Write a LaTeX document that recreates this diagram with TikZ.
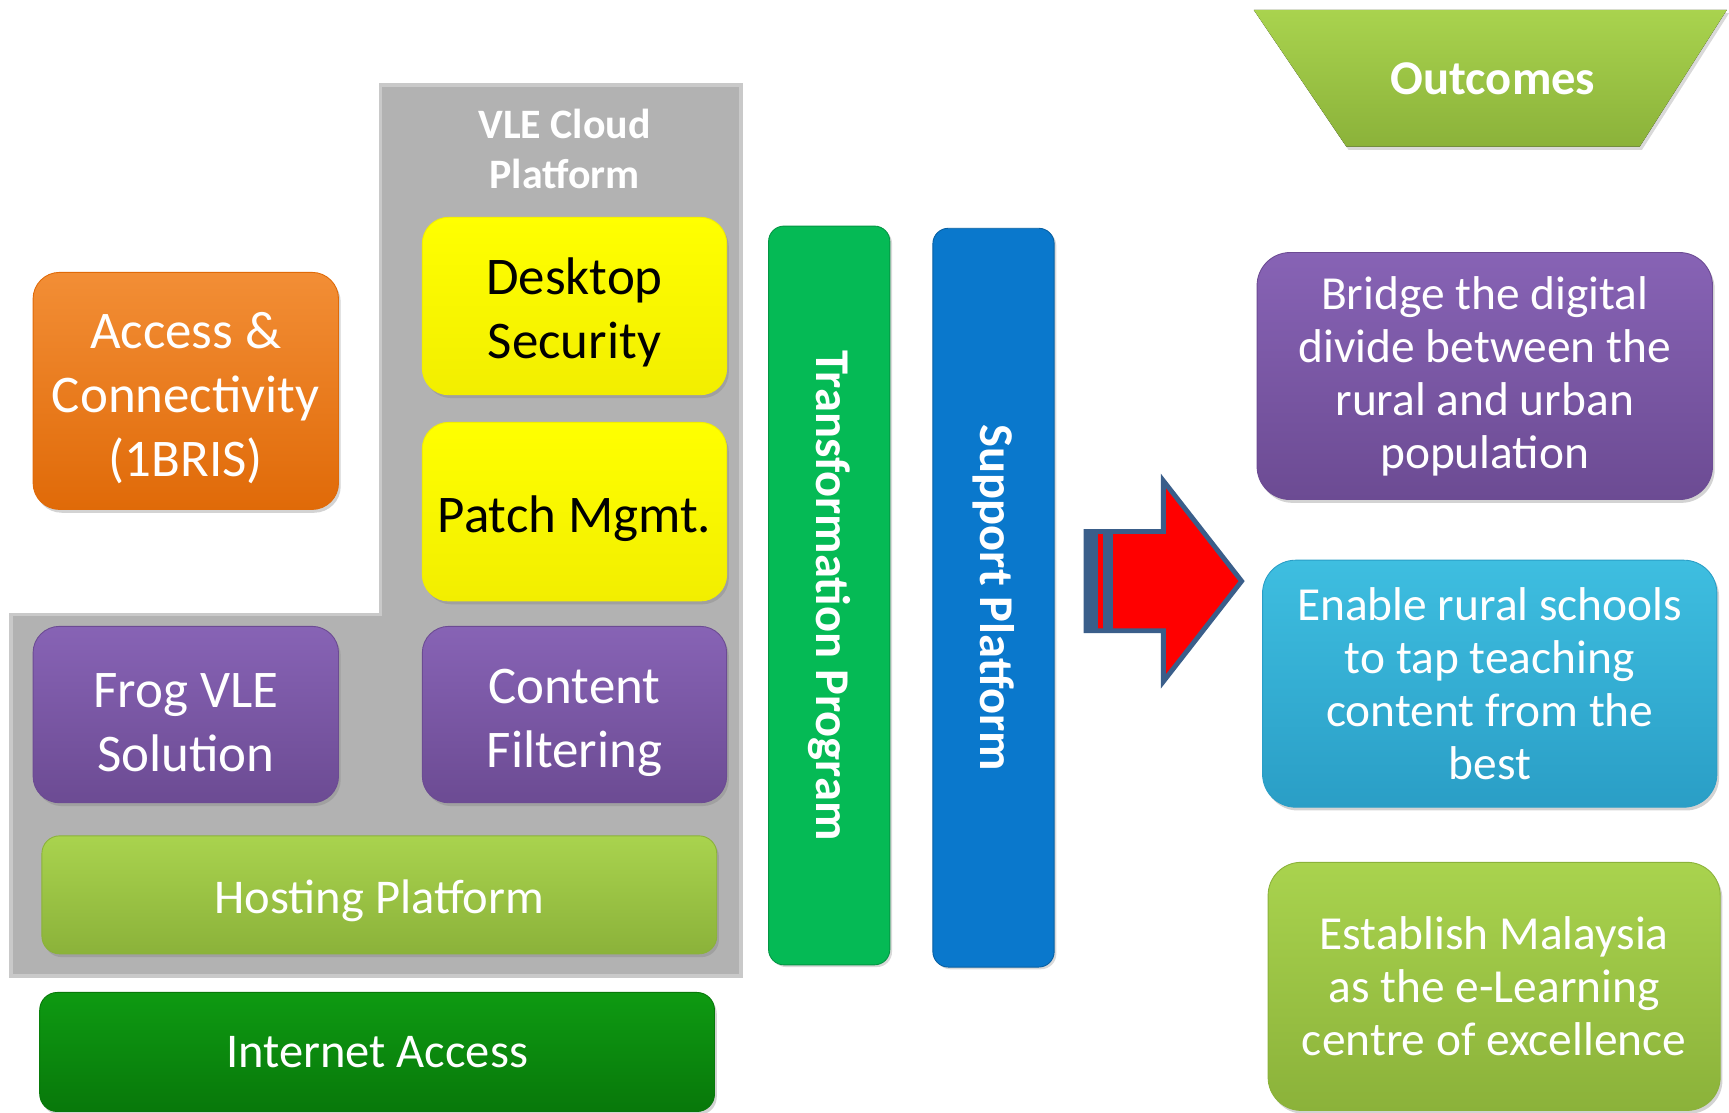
\documentclass[tikz,border=0pt]{standalone}
\usepackage{fontspec}
\setmainfont{Carlito}
\usepackage{tikz}
\usetikzlibrary{shadows,positioning,calc}
\usepackage{xcolor}

\definecolor{platgray}{HTML}{B2B2B2}
\definecolor{platedge}{HTML}{C9C9C9}
\definecolor{accorange}{HTML}{F07A12}
\definecolor{accorangedk}{HTML}{E06A08}
\definecolor{secyellow}{HTML}{FFFF00}
\definecolor{secyellowdk}{HTML}{F2EE00}
\definecolor{vlepurple}{HTML}{8763B5}
\definecolor{vlepurpledk}{HTML}{6C4B93}
\definecolor{hostgreen}{HTML}{A9D34E}
\definecolor{hostgreendk}{HTML}{8BB23A}
\definecolor{netgreen}{HTML}{0E9A12}
\definecolor{netgreendk}{HTML}{08780A}
\definecolor{transgreen}{HTML}{05BA55}
\definecolor{supblue}{HTML}{0A78CC}
\definecolor{outcyan}{HTML}{3EBEE0}
\definecolor{outcyandk}{HTML}{2A9EC6}
\definecolor{arrowred}{HTML}{FF0000}
\definecolor{arrowedge}{HTML}{3A5E8A}

\newcommand{\boxstrut}{\rule{0pt}{0.95em}}

\begin{document}
\begin{tikzpicture}[x=0.5pt, y=-0.5pt,
    box/.style={rounded corners=12pt, inner sep=0pt, align=center, text=white,
                font=\fontsize{24}{29}\selectfont,
                drop shadow={opacity=0.35, shadow xshift=1pt, shadow yshift=-1.5pt}},
    lowtext/.style={execute at begin node={\rule{0pt}{0.95em}}},
    bar/.style={rounded corners=7pt, inner sep=0pt, rotate=-90, text=white,
                font=\bfseries\fontsize{22}{26}\selectfont,
                minimum width=335pt, minimum height=55pt,
                drop shadow={opacity=0.3, shadow xshift=1pt, shadow yshift=-1pt}},
    outbox/.style={box, rounded corners=15pt, font=\fontsize{21.5}{24}\selectfont},
    title/.style={text=white, align=center, font=\bfseries\fontsize{19}{23}\selectfont}]
    \useasboundingbox (0,0) rectangle (1568,1009);
    % VLE cloud platform (gray L shape)
    \draw[platedge, line width=1.5pt, fill=platgray]
        (345,77) -- (672,77) -- (672,885) -- (10,885) -- (10,557) -- (345,557) -- cycle;
    \node[title] (vle) at (512,135) {VLE Cloud\\Platform};
    % left column
    \node[box, top color=accorange!85!white, bottom color=accorangedk, draw=accorangedk,
          minimum width=138.5pt, minimum height=107.5pt] (access) at (168.5,354.5) {\boxstrut Access \&\\Connectivity\\(1BRIS)};
    \node[box, top color=secyellow, bottom color=secyellowdk, draw=secyellowdk, text=black,
          minimum width=138pt, minimum height=80.5pt] (desktop) at (521,277.5) {\boxstrut Desktop\\Security};
    \node[box, lowtext, top color=secyellow, bottom color=secyellowdk, draw=secyellowdk, text=black,
          minimum width=138pt, minimum height=81pt] (patch) at (521,464) {Patch Mgmt.};
    \node[box, top color=vlepurple, bottom color=vlepurpledk, draw=vlepurpledk,
          minimum width=138.5pt, minimum height=80pt] (frog) at (168.5,648) {\boxstrut Frog VLE\\Solution};
    \node[box, top color=vlepurple, bottom color=vlepurpledk, draw=vlepurpledk,
          minimum width=138pt, minimum height=80pt] (filter) at (521,648) {\boxstrut Content\\Filtering};
    \node[box, lowtext, rounded corners=8pt, top color=hostgreen, bottom color=hostgreendk, draw=hostgreendk,
          font=\fontsize{22}{26}\selectfont,
          minimum width=306pt, minimum height=53.5pt] (hosting) at (344,811.5) {Hosting Platform};
    \node[box, rounded corners=8pt, top color=netgreen, bottom color=netgreendk, draw=netgreendk,
          font=\fontsize{22}{26}\selectfont,
          minimum width=306pt, minimum height=54pt] (internet) at (342,954) {Internet Access};
    % vertical bars
    \node[bar, fill=transgreen, draw=transgreen!80!black] (trans) at (752,540) {Transformation Program};
    \node[bar, fill=supblue, draw=supblue!80!black] (support) at (901,542) {Support Platform};
    % big red arrow
    \draw[arrowedge, line width=2.2pt, fill=arrowred, line join=miter]
        (985,482) -- (1055,482) -- (1055,436) -- (1126,527) -- (1055,618) -- (1055,572) -- (985,572) -- cycle;
    \fill[arrowedge] (985,482) rectangle (996,572);
    \fill[arrowedge] (1000,482) rectangle (1009,572);
    % outcomes
    \fill[top color=hostgreen, bottom color=hostgreendk,
          drop shadow={opacity=0.3, shadow xshift=1pt, shadow yshift=-1.5pt}]
        (1137,9) -- (1566,9) -- (1487,133) -- (1221,133) -- cycle;
    \node[title, font=\bfseries\fontsize{22}{26}\selectfont] (outcomes) at (1354,71) {Outcomes};
    \node[outbox, top color=vlepurple, bottom color=vlepurpledk, draw=vlepurpledk,
          minimum width=206.5pt, minimum height=112pt] (bridge) at (1346.5,341)
          {Bridge the digital\\divide between the\\rural and urban\\population};
    \node[outbox, top color=outcyan, bottom color=outcyandk, draw=outcyandk,
          minimum width=206pt, minimum height=112pt] (enable) at (1351,620)
          {Enable rural schools\\to tap teaching\\content from the\\best};
    \node[outbox, top color=hostgreen, bottom color=hostgreendk, draw=hostgreendk,
          minimum width=205pt, minimum height=112.5pt] (establish) at (1355,894.5)
          {Establish Malaysia\\as the e-Learning\\centre of excellence};
\end{tikzpicture}
\end{document}
